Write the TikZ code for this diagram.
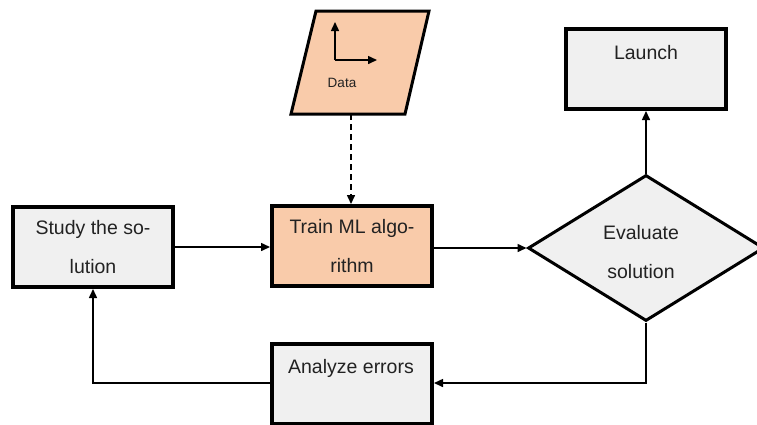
\documentclass[tikz,border=0pt]{standalone}
\usepackage{fontspec}
\setmainfont{Liberation Sans}
\usetikzlibrary{arrows.meta,shapes.geometric}
\definecolor{boxgray}{HTML}{F0F0F0}
\definecolor{peach}{HTML}{F9CBAA}
\definecolor{ink}{HTML}{222222}
\tikzset{
  box/.style={draw=black, line width=4pt, fill=boxgray, rectangle,
    minimum width=160pt, minimum height=80pt, inner sep=0pt},
  orangebox/.style={box, fill=peach},
  txt/.style={text=ink, font=\fontsize{19.5}{38.5}\selectfont, align=center, inner sep=0pt},
  smalltxt/.style={text=ink, font=\fontsize{13.5}{16}\selectfont, inner sep=0pt},
  decision/.style={draw=black, line width=3pt, fill=boxgray, diamond,
    minimum width=236pt, minimum height=146pt, inner sep=0pt},
  conn/.style={draw=black, line width=1.5pt, -{Triangle[length=9pt,width=8pt]}},
  plainline/.style={draw=black, line width=1.5pt}
}
\begin{document}
\begin{tikzpicture}[x=1pt,y=-1pt]
  \useasboundingbox (0,0) rectangle (757,424);
  \clip (0,0) rectangle (757,424);

  % data input (parallelogram)
  \coordinate (dtl) at (316,11);
  \coordinate (dtr) at (429,11);
  \coordinate (dbr) at (405,114);
  \coordinate (dbl) at (291,114);
  \filldraw[fill=peach, draw=black, line width=3pt, line join=miter]
    (dtl) -- (dtr) -- (dbr) -- (dbl) -- cycle;
  \coordinate (axo) at (335,60);
  \coordinate (axy) at (335,22);
  \coordinate (axx) at (377,60);
  \draw[conn] (axo) -- (axy);
  \draw[conn] (axo) -- (axx);
  \node[smalltxt] (datalbl) at (342,83) {Data};
  \coordinate (dataout) at (351,114);

  % process boxes
  \node[box] (study) at (93,247) {};
  \node[txt] (studylbl) at (study.center) {Study the so-\\lution};
  \node[orangebox] (train) at (352,246) {};
  \node[txt] (trainlbl) at (train.center) {Train ML algo-\\rithm};
  \node[box] (launch) at (646,69) {};
  \node[txt] (launchlbl) at (646,53) {Launch};
  \node[box] (analyze) at (352,384) {};
  \node[txt] (analyzelbl) at (351,368) {Analyze errors};

  % decision
  \node[decision] (eval) at (646,248) {};
  \node[txt] (evallbl) at (641,252) {Evaluate\\solution};

  % connectors
  \draw[conn, dashed, dash pattern=on 6pt off 4pt] (dataout) -- (dataout |- train.north);
  \draw[conn] (study.east |- 0,247) -- (train.west |- 0,247);
  \draw[conn] (train.east |- eval.west) -- (eval.west);
  \draw[conn] (eval.north) -- (launch.south);
  \coordinate (evalturn) at (eval.south |- 0,383);
  \draw[conn] (eval.south) -- (evalturn) -- (analyze.east |- evalturn);
  \coordinate (backturn) at (study.south |- 0,383);
  \draw[conn] (analyze.west |- 0,383) -- (backturn) -- (study.south);
\end{tikzpicture}
\end{document}
